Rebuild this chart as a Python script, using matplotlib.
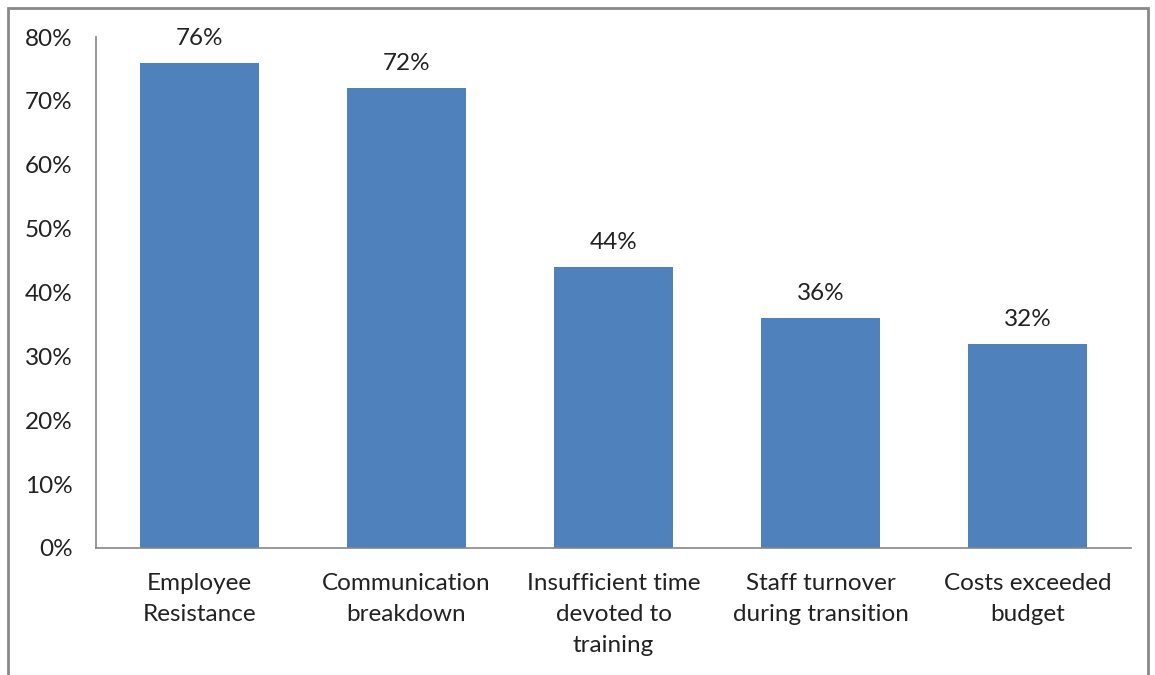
import matplotlib.pyplot as plt
from matplotlib.patches import Rectangle

categories = ['Employee\nResistance', 'Communication\nbreakdown',
              'Insufficient time\ndevoted to\ntraining', 'Staff turnover\nduring transition',
              'Costs exceeded\nbudget']
values = [76, 72, 44, 36, 32]
yticks = [0, 10, 20, 30, 40, 50, 60, 70, 80]

plt.rcParams['font.family'] = ['Lato', 'DejaVu Sans']
fs = 17.5

fig = plt.figure(figsize=(11.55, 6.75), dpi=100)
ax = fig.add_axes([96/1155, 127/675, (1131-96)/1155, (548-37)/675])

# outer chart frame
fig.patches.append(Rectangle((8/1155, -0.02), (1148-8)/1155, 1.02 - 8/675,
                             transform=fig.transFigure, fill=False,
                             edgecolor='#888888', linewidth=2))

x = range(len(values))
ax.bar(x, values, width=0.575, color='#4F81BD')
for xi, v in zip(x, values):
    ax.annotate(f'{v}%', (xi, v), xytext=(0, 10), textcoords='offset points',
                ha='center', va='bottom', fontsize=fs, color='#222222')

ax.set_xlim(-0.5, len(values) - 0.5)
ax.set_ylim(0, 80)
ax.set_yticks(yticks)
ax.set_yticklabels([f'{t}%' for t in yticks], fontsize=fs, color='#222222')
ax.set_xticks(list(x))
ax.set_xticklabels(categories, fontsize=fs, color='#222222', linespacing=1.58, va='top')
ax.tick_params(length=0)
ax.tick_params(axis='y', pad=17)
ax.tick_params(axis='x', pad=18)

for s in ['top', 'right']:
    ax.spines[s].set_visible(False)
for s in ['left', 'bottom']:
    ax.spines[s].set_color('#868686')
    ax.spines[s].set_linewidth(1.2)

fig.savefig('out.png', dpi=100)
